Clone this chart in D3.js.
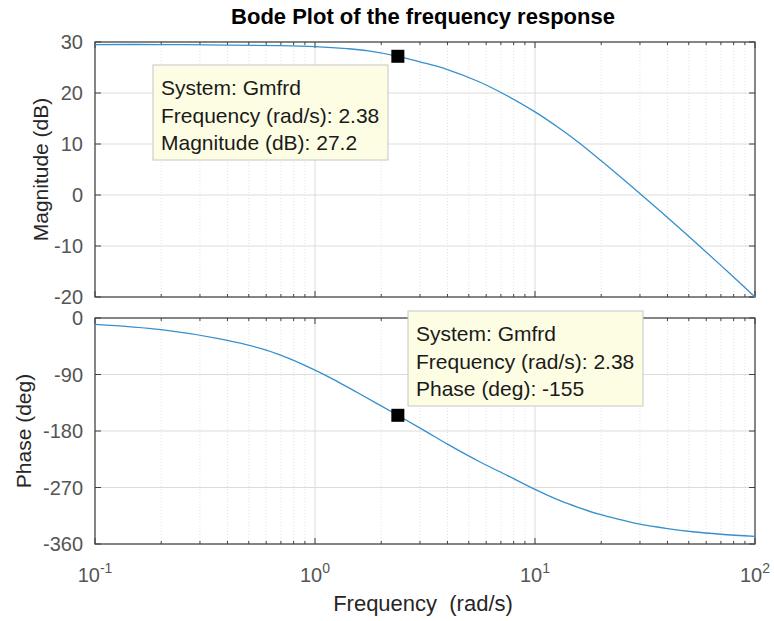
<!DOCTYPE html>
<html>
<head>
<meta charset="utf-8">
<script src="https://cdn.jsdelivr.net/npm/d3@7"></script>
<style>
  html, body { margin: 0; padding: 0; background: #ffffff; }
  svg { display: block; font-family: "Liberation Sans", Arial, Helvetica, sans-serif; }
</style>
</head>
<body>
<svg id="chart" width="774" height="621"></svg>
<script>
// ---- data ----
const chartTitle = "Bode Plot of the frequency response";
const systemName = "Gmfrd";
const freqMag = [0.1, 0.2, 0.4, 0.7, 1, 1.4, 1.72, 2.38, 3, 4, 5.5, 7, 10, 13, 15.8, 20, 30.5, 40, 55.6, 75, 100];
const magDb   = [29.5, 29.5, 29.4, 29.3, 29.1, 28.7, 28.3, 27.2, 26.1, 24.6, 22.3, 20.1, 16.3, 13.0, 10.3, 6.7, 0, -4.4, -9.9, -15.0, -20];
const freqPhase = [0.1, 0.2, 0.38, 0.6, 0.77, 1, 1.17, 1.6, 2.38, 3.2, 4, 5.6, 7.5, 10, 13, 15.8, 19.7, 25, 30, 40, 52, 70, 100];
const phaseDeg  = [-10, -18.5, -34, -51, -65, -83, -95, -121, -155, -181, -201, -229, -251, -273, -291, -302, -313, -322, -328.5, -335.5, -340.5, -344.5, -348];
const magTicks = [30, 20, 10, 0, -10, -20];
const phaseTicks = [0, -90, -180, -270, -360];
const decadeTicks = [0.1, 1, 10, 100];
const decadeExp = ["-1", "0", "1", "2"];
const tipFreq = 2.38;
const tipMag = 27.2;
const tipPhase = -155;

// ---- layout ----
const L = 95, R = 755;
const magTop = 42, magBot = 297;
const phTop = 318, phBot = 544;

const svg = d3.select("#chart");
const x = d3.scaleLog().domain([0.1, 100]).range([L, R]);
const yMag = d3.scaleLinear().domain([-20, 30]).range([magBot, magTop]);
const yPh = d3.scaleLinear().domain([-360, 0]).range([phBot, phTop]);

const minorTicks = [];
[0.1, 1, 10].forEach(d => { for (let k = 2; k <= 9; k++) minorTicks.push(d * k); });

const gridMajor = "#dcdcdc", gridMinor = "#e2e2e2", axisCol = "#404040", tickText = "#555555";

function drawPanel(y, top, bot, yticks) {
  const g = svg.append("g");
  g.selectAll(".mg").data(minorTicks).enter().append("line")
    .attr("x1", d => x(d)).attr("x2", d => x(d)).attr("y1", top).attr("y2", bot)
    .attr("stroke", gridMinor).attr("stroke-width", 1).attr("stroke-dasharray", "1,2");
  g.selectAll(".Mx").data(decadeTicks).enter().append("line")
    .attr("x1", d => x(d)).attr("x2", d => x(d)).attr("y1", top).attr("y2", bot)
    .attr("stroke", gridMajor).attr("stroke-width", 1);
  g.selectAll(".My").data(yticks).enter().append("line")
    .attr("x1", L).attr("x2", R).attr("y1", d => y(d)).attr("y2", d => y(d))
    .attr("stroke", gridMajor).attr("stroke-width", 1);
  const tk = svg.append("g").attr("stroke", axisCol).attr("stroke-width", 1);
  decadeTicks.forEach(d => {
    tk.append("line").attr("x1", x(d)).attr("x2", x(d)).attr("y1", bot).attr("y2", bot - 6);
    tk.append("line").attr("x1", x(d)).attr("x2", x(d)).attr("y1", top).attr("y2", top + 6);
  });
  minorTicks.forEach(d => {
    tk.append("line").attr("x1", x(d)).attr("x2", x(d)).attr("y1", bot).attr("y2", bot - 3);
    tk.append("line").attr("x1", x(d)).attr("x2", x(d)).attr("y1", top).attr("y2", top + 3);
  });
  yticks.forEach(d => {
    tk.append("line").attr("x1", L).attr("x2", L + 6).attr("y1", y(d)).attr("y2", y(d));
    tk.append("line").attr("x1", R).attr("x2", R - 6).attr("y1", y(d)).attr("y2", y(d));
  });
  svg.append("rect").attr("x", L).attr("y", top).attr("width", R - L).attr("height", bot - top)
    .attr("fill", "none").attr("stroke", axisCol).attr("stroke-width", 1.2);
  svg.append("g").selectAll("text").data(yticks).enter().append("text")
    .attr("x", L - 12).attr("y", d => y(d)).attr("dy", "0.36em")
    .attr("text-anchor", "end").attr("fill", tickText).attr("font-size", 20)
    .text(d => d);
}

drawPanel(yMag, magTop, magBot, magTicks);
drawPanel(yPh, phTop, phBot, phaseTicks);

// curves
const lineCol = "#3590cd";
const magData = freqMag.map((f, i) => [f, magDb[i]]);
const phData = freqPhase.map((f, i) => [f, phaseDeg[i]]);
svg.append("path").datum(magData)
  .attr("d", d3.line().x(d => x(d[0])).y(d => yMag(d[1])).curve(d3.curveCatmullRom.alpha(0.5)))
  .attr("fill", "none").attr("stroke", lineCol).attr("stroke-width", 1.3);
svg.append("path").datum(phData)
  .attr("d", d3.line().x(d => x(d[0])).y(d => yPh(d[1])).curve(d3.curveCatmullRom.alpha(0.5)))
  .attr("fill", "none").attr("stroke", lineCol).attr("stroke-width", 1.3);

// x tick labels (10^n)
const xl = svg.append("g").attr("fill", tickText).attr("font-size", 20);
decadeTicks.forEach((d, i) => {
  const t = xl.append("text").attr("x", x(d)).attr("y", 582).attr("text-anchor", "middle");
  t.append("tspan").text("10");
  t.append("tspan").attr("dy", -9).attr("font-size", 14).text(decadeExp[i]);
});

// title and axis labels
svg.append("text").attr("x", (L + R) / 2 - 2).attr("y", 24).attr("text-anchor", "middle")
  .attr("font-weight", "bold").attr("font-size", 22).attr("fill", "#000").text(chartTitle);
svg.append("text").attr("x", (L + R) / 2 - 2).attr("y", 611).attr("text-anchor", "middle")
  .attr("font-size", 22).attr("fill", "#262626").attr("xml:space", "preserve").text("Frequency  (rad/s)");
svg.append("text").attr("transform", `translate(48,${(magTop + magBot) / 2}) rotate(-90)`)
  .attr("text-anchor", "middle").attr("font-size", 21).attr("fill", "#262626").text("Magnitude (dB)");
svg.append("text").attr("transform", `translate(31,${(phTop + phBot) / 2}) rotate(-90)`)
  .attr("text-anchor", "middle").attr("font-size", 21).attr("fill", "#262626").text("Phase (deg)");

// data tips
function dataTip(bx, by, lines) {
  const g = svg.append("g");
  g.append("rect").attr("x", bx).attr("y", by).attr("width", 235).attr("height", 95)
    .attr("fill", "#fdfde4").attr("stroke", "#c6c6c6").attr("stroke-width", 1);
  lines.forEach((s, i) => {
    g.append("text").attr("x", bx + 8).attr("y", by + 30 + i * 27.5)
      .attr("font-size", 21).attr("fill", "#1a1a1a").text(s);
  });
}
dataTip(153, 65, [`System: ${systemName}`, `Frequency (rad/s): ${tipFreq}`, `Magnitude (dB): ${tipMag}`]);
dataTip(408, 311, [`System: ${systemName}`, `Frequency (rad/s): ${tipFreq}`, `Phase (deg): ${tipPhase}`]);

// markers
svg.append("rect").attr("x", x(tipFreq) - 6.5).attr("y", yMag(tipMag) - 6.5).attr("width", 13).attr("height", 13).attr("fill", "#000");
svg.append("rect").attr("x", x(tipFreq) - 6.5).attr("y", yPh(tipPhase) - 6.5).attr("width", 13).attr("height", 13).attr("fill", "#000");
</script>
</body>
</html>
